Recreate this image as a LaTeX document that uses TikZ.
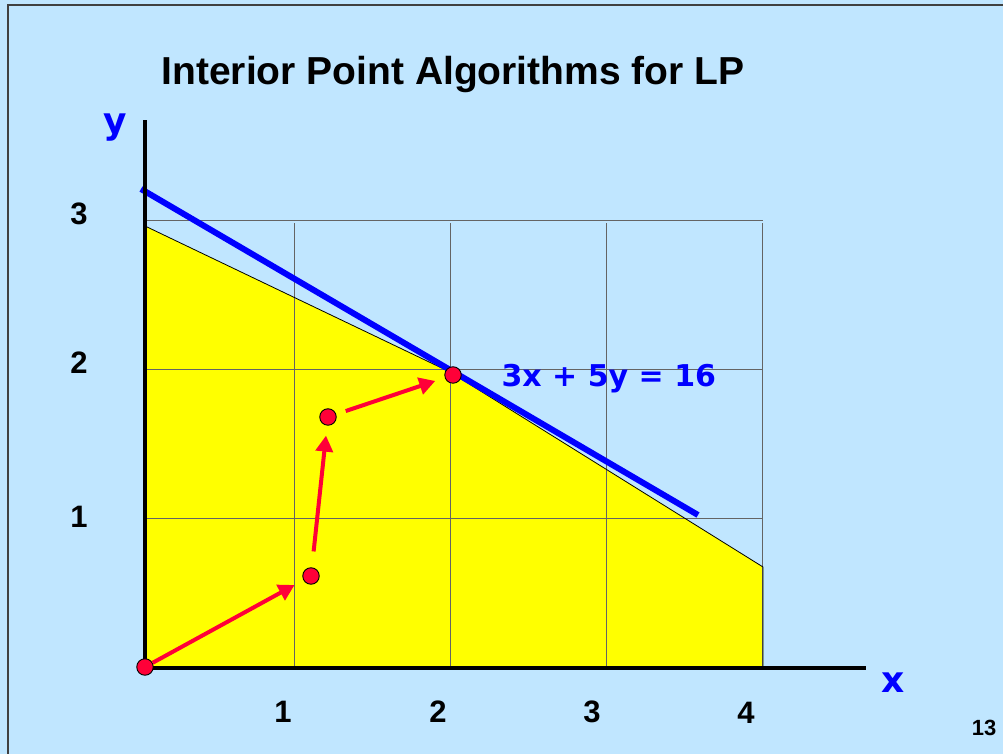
\documentclass[tikz,border=0pt]{standalone}
\usepackage{fontspec}
\setmainfont{Liberation Sans}
\newfontfamily\comicfont{DejaVu Sans}
\usetikzlibrary{arrows.meta}
\definecolor{slideblue}{HTML}{C0E6FF}
\definecolor{iterred}{HTML}{FF0038}
\definecolor{gridgray}{HTML}{646464}
\definecolor{framegray}{HTML}{404040}
\definecolor{regionyellow}{HTML}{FFFF00}

\begin{document}
\begin{tikzpicture}[x=1pt, y=1pt,
  iter/.style={circle, draw=black, line width=0.9pt, fill=iterred,
               minimum size=16.5pt, inner sep=0pt},
  movearr/.style={-{Triangle[length=16pt, width=17pt]}, iterred,
                  line width=4pt, shorten >=10pt},
  ticklab/.style={font=\fontsize{31}{36}\selectfont\bfseries},
  axislab/.style={font=\comicfont\fontsize{36}{42}\selectfont\bfseries, text=blue},
  gridline/.style={gridgray, line width=1pt},
  axis/.style={black, line width=4pt}
]
  % slide background and frame
  \fill[slideblue] (0,0) rectangle (1003,754);
  \useasboundingbox (0,0) rectangle (1003,754);
  \draw[framegray, line width=1.6pt] (8,0) -- (8,749) -- (1003,749);

  % feasible region
  \fill[regionyellow] (145,528) -- (450,382) -- (763,187) -- (763,86) -- (145,86) -- cycle;

  % grid
  \foreach \gy in {235,384,533}
    \draw[gridline] (145,\gy) -- (763,\gy);
  \foreach \gx in {294,450,606,762}
    \draw[gridline] (\gx,86) -- (\gx,531);

  \draw[black, line width=0.8pt] (145,528) -- (450,382) -- (763,187) -- (763,86);

  % objective line
  \draw[blue, line width=6pt] (141,565) -- (698,239);

  % axes
  \coordinate (org) at (145,86);
  \coordinate (ytop) at (145,634);
  \coordinate (xend) at (866,86);
  \draw[axis] (145,84) -- (ytop);
  \draw[axis] (143,86) -- (xend);

  % iterates
  \node[iter] (p0) at (145,87) {};
  \node[iter] (p1) at (311,178) {};
  \node[iter] (p2) at (328,337) {};
  \node[iter] (p3) at (453,379) {};

  \draw[movearr] (p0) -- (p1);
  \draw[movearr, shorten <=16pt] (p1) -- (p2);
  \draw[movearr, shorten <=10pt] (p2) -- (p3);

  % labels
  \node[font=\fontsize{39}{46}\selectfont\bfseries, anchor=base] (title)
    at (453,669) {Interior Point Algorithms for LP};
  \node[axislab, anchor=base] (ylab) at (115,620) {y};
  \node[axislab] (xlab) at (893,71) {x};
  \node[font=\comicfont\fontsize{30}{36}\selectfont\bfseries, text=blue,
        anchor=base west] (obj) at (498,367) {3x + 5y = 16};

  \node[ticklab] (y3) at (79,540) {3};
  \node[ticklab] (y2) at (79,391) {2};
  \node[ticklab] (y1) at (79,237) {1};
  \node[ticklab] (x1) at (283,42) {1};
  \node[ticklab] (x2) at (438,42) {2};
  \node[ticklab] (x3) at (592,42) {3};
  \node[ticklab] (x4) at (746,41) {4};

  \node[font=\fontsize{22}{26}\selectfont\bfseries] (pagenum) at (984,26) {13};
\end{tikzpicture}
\end{document}
